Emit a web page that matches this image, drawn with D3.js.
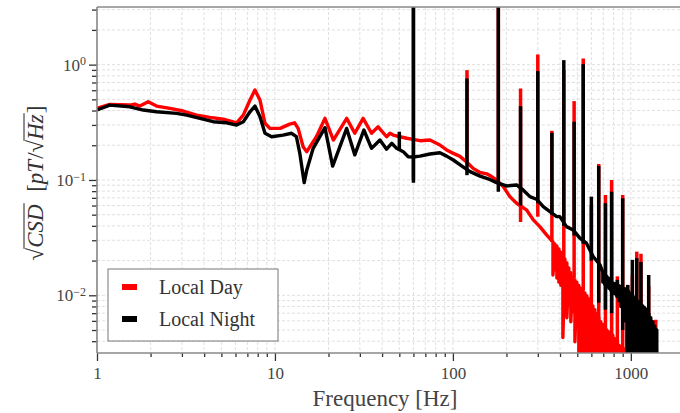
<!DOCTYPE html>
<html>
<head>
<meta charset="utf-8">
<script src="https://cdn.jsdelivr.net/npm/d3@7"></script>
<style>
body { margin: 0; background: #fff; }
svg text { font-family: "Liberation Serif", "DejaVu Serif", serif; fill: #444; }
</style>
</head>
<body>
<script>
// axis limits and ticks
var xLimits = [1, 2150];
var yLimits = [0.00316, 3.16];
var xMajor = [1, 10, 100, 1000];
var yMajor = [0.01, 0.1, 1];
var yExp = ["\u22122", "\u22121", "0"];

// Local Day: smooth part of the spectrum (Hz, pT/sqrt(Hz))
var dayHz = [1.0, 1.18, 1.53, 1.63, 1.74, 1.94, 2.16, 2.57, 3.05, 3.63, 4.31, 5.13, 6.09, 6.64, 7.24, 7.72, 8.24, 8.79, 9.37,
  10.7, 12.1, 12.9, 13.5, 14.4, 15.1, 17.1, 19.1, 21.3, 25.3, 28.1, 31.3, 34.9, 38.0, 42.4, 44.3, 46.2, 50.4, 55.0, 59.8,
  65.3, 74.3, 84.5, 92.2, 100.5, 109, 119, 130, 142, 155, 165, 176, 192, 209, 228, 259, 283, 308, 336];
var dayCsd = [0.418, 0.452, 0.446, 0.455, 0.437, 0.476, 0.437, 0.418, 0.396, 0.365, 0.349, 0.336, 0.313, 0.365, 0.493, 0.601, 0.493, 0.310, 0.280,
  0.280, 0.305, 0.313, 0.280, 0.194, 0.176, 0.237, 0.342, 0.222, 0.342, 0.254, 0.342, 0.254, 0.289, 0.237, 0.254, 0.245, 0.237, 0.230, 0.225,
  0.219, 0.222, 0.201, 0.182, 0.170, 0.161, 0.144, 0.126, 0.116, 0.113, 0.107, 0.100, 0.0875, 0.0717, 0.0628, 0.0551, 0.0451, 0.0394, 0.0334];
// Local Day: noisy tail, upper and lower excursions
var dayNoiseHz = [365, 374, 384, 394, 404, 415, 426, 437, 448, 460, 472, 485, 497, 510, 524, 537, 552, 566, 581, 596, 612, 628,
  644, 661, 678, 696, 714, 733, 752, 772, 792, 813, 834, 856, 879, 902, 925, 950, 1000, 1053, 1109, 1168, 1230, 1262, 1295, 1364, 1399];
var dayNoiseHigh = [0.0290, 0.0279, 0.0268, 0.0252, 0.0237, 0.0222, 0.0207, 0.0191, 0.0173, 0.0157, 0.0144, 0.0136, 0.0130, 0.0122, 0.0115, 0.0112,
  0.0105, 0.0099, 0.0093, 0.0088, 0.0081, 0.0075, 0.0069, 0.0064, 0.0059, 0.0056, 0.0052, 0.0050, 0.0048, 0.0047, 0.0045, 0.0042, 0.0040,
  0.0037, 0.0036, 0.0035, 0.0034, 0.0033, 0.0037, 0.0034, 0.0036, 0.0033, 0.0050, 0.0045, 0.0034, 0.0033, 0.0032];
var dayNoiseLow = [0.0150, 0.0166, 0.0141, 0.0130, 0.0122, 0.00431, 0.00914, 0.00638, 0.00827, 0.00590, 0.00720, 0.00396, 0.00555, 0.0025, 0.0025, 0.0025,
  0.0025, 0.0025, 0.0025, 0.0025, 0.0025, 0.0025, 0.0025, 0.0025, 0.0025, 0.0025, 0.0025, 0.0025, 0.0025, 0.0025, 0.0025, 0.0025, 0.0025,
  0.0025, 0.0025, 0.0025, 0.0025, 0.0025, 0.0025, 0.0025, 0.0025, 0.0025, 0.0025, 0.0025, 0.0025, 0.0025, 0.0025];

// Local Night: smooth part
var nightHz = [1.0, 1.18, 1.53, 1.82, 2.16, 2.80, 3.19, 3.79, 4.50, 5.35, 6.09, 6.64, 7.24, 7.72, 8.24, 8.79, 9.58, 11.1, 12.4, 13.2,
  13.8, 14.6, 15.1, 16.4, 19.1, 21.1, 25.3, 28.1, 31.6, 34.9, 38.9, 42.4, 45.3, 48.3, 52.6, 56.1, 59.8, 65.3, 74.3, 84.5, 92.2,
  100.5, 114, 125, 142, 161, 176, 200, 228, 248, 271, 295, 322, 351, 383, 399, 435, 474, 517, 563, 614, 670];
var nightCsd = [0.404, 0.446, 0.431, 0.404, 0.390, 0.378, 0.365, 0.342, 0.320, 0.313, 0.299, 0.320, 0.390, 0.437, 0.353, 0.254, 0.237, 0.245, 0.254, 0.237,
  0.170, 0.0948, 0.122, 0.188, 0.284, 0.132, 0.280, 0.165, 0.271, 0.188, 0.222, 0.185, 0.208, 0.188, 0.176, 0.159, 0.158, 0.161, 0.168, 0.172, 0.161,
  0.149, 0.130, 0.118, 0.108, 0.101, 0.0948, 0.0887, 0.0905, 0.0819, 0.0717, 0.0681, 0.0587, 0.0532, 0.0481, 0.0481, 0.0394, 0.0369, 0.0313, 0.0283, 0.0217, 0.0184];
// Local Night: noisy tail
var nightNoiseHz = [696, 714, 733, 752, 772, 792, 813, 834, 856, 879, 902, 925, 950, 974, 1000, 1026, 1053, 1081, 1109, 1138,
  1168, 1198, 1230, 1262, 1295, 1329, 1364, 1399];
var nightNoiseHigh = [0.0159, 0.0151, 0.0146, 0.0140, 0.0134, 0.0128, 0.0126, 0.0123, 0.0121, 0.0119, 0.0116, 0.0114, 0.0112, 0.0108, 0.0103, 0.0099,
  0.0095, 0.0091, 0.0088, 0.0085, 0.0081, 0.0078, 0.0075, 0.0069, 0.0064, 0.0059, 0.0054, 0.0050];
var nightNoiseLow = [0.0130, 0.0124, 0.0120, 0.0115, 0.0110, 0.0105, 0.0103, 0.0098, 0.0090, 0.0080, 0.0070, 0.0060, 0.0025, 0.0025, 0.0025, 0.0025,
  0.0025, 0.0025, 0.0025, 0.0025, 0.0025, 0.0025, 0.0025, 0.0025, 0.0025, 0.0025, 0.0025, 0.0025];

// power line harmonics (narrow lines)
var spikeHz = [50, 60, 120, 180, 240, 300, 360, 420, 480, 540, 600, 660, 720, 780, 840, 900, 960, 1020, 1080, 1140, 1200, 1260, 1380];
var daySpikeTop = [0.237, 5, 0.896, 5, 0.622, 1.225, 0.267, 0.90, 0.483, 1.13, 0.060, 0.1376, 0.0742, 0.100, 0.0146, 0.0742, 0.0123, 0.015, 0.0239, 0.0229, 0.00655, 0.012, 0.00614];
var daySpikeBase = [0.237, 0.100, 0.140, 0.100, 0.0433, 0.048, 0.029, 0.020, 0.014, 0.011, 0.008, 0.0025, 0.0025, 0.0025, 0.0025, 0.0025, 0.0025, 0.0025, 0.0025, 0.0025, 0.0025, 0.0025, 0.0025];
var nightSpikeTop = [0.262, 5, 0.759, 5, 0.437, 0.878, 0.257, 1.094, 0.320, 1.01, 0.0717, 0.132, 0.0628, 0.0792, 0.0136, 0.0694, 0.0123, 0.0203, 0.0210, 0.0195, 0.0055, 0.0150, 0.0047];
var nightSpikeBase = [0.180, 0.0948, 0.110, 0.079, 0.060, 0.063, 0.050, 0.040, 0.033, 0.028, 0.020, 0.0086, 0.0075, 0.0070, 0.0100, 0.0050, 0.0025, 0.0025, 0.0025, 0.0025, 0.0025, 0.0025, 0.0025];

var legendNames = ["Local Day", "Local Night"];
var colors = ["#ff0000", "#000000"];

var plotLeft = 97, plotRight = 690, plotTop = 7, plotBottom = 353;

var svg = d3.select("body").append("svg")
    .attr("width", 680)
    .attr("height", 413);

var x = d3.scaleLog().domain(xLimits).range([plotLeft, plotRight]);
var y = d3.scaleLog().domain(yLimits).range([plotBottom, plotTop]);

svg.append("clipPath").attr("id", "plotclip")
    .append("rect").attr("x", plotLeft).attr("y", plotTop)
    .attr("width", plotRight - plotLeft).attr("height", plotBottom - plotTop);

// tick positions at 1..9 per decade
function decadeTicks(lo, hi) {
    var out = [];
    for (var e = Math.floor(Math.log10(lo)); e <= Math.ceil(Math.log10(hi)); e++) {
        for (var k = 1; k < 10; k++) {
            var v = k * Math.pow(10, e);
            if (v >= lo * 0.999 && v <= hi) out.push(v);
        }
    }
    return out;
}
var xAll = decadeTicks(xLimits[0], xLimits[1]);
var yAll = decadeTicks(yLimits[0], yLimits[1]);
var xMinor = xAll.filter(function(d) { return xMajor.indexOf(d) < 0; });
var yMinor = yAll.filter(function(d) { return !yMajor.some(function(m) { return Math.abs(m - d) / m < 1e-6; }); });

// grid
var grid = svg.append("g");
grid.selectAll("line.gx").data(xAll).enter().append("line")
    .attr("x1", function(d) { return x(d); }).attr("x2", function(d) { return x(d); })
    .attr("y1", plotTop).attr("y2", plotBottom)
    .style("stroke", "#d8d8d8").style("stroke-width", 0.8).style("stroke-dasharray", "3,2");
grid.selectAll("line.gy").data(yAll).enter().append("line")
    .attr("y1", function(d) { return y(d); }).attr("y2", function(d) { return y(d); })
    .attr("x1", plotLeft).attr("x2", plotRight)
    .style("stroke", "#d8d8d8").style("stroke-width", 0.8).style("stroke-dasharray", "3,2");

// build line data: smooth part then zigzag through the noisy tail
function series(hz, val, nHz, nHigh, nLow) {
    var pts = hz.map(function(f, i) { return [f, val[i]]; });
    nHz.forEach(function(f, i) {
        pts.push([f, nHigh[i]]);
        pts.push([f, nLow[i]]);
    });
    return pts;
}
var dayData = series(dayHz, dayCsd, dayNoiseHz, dayNoiseHigh, dayNoiseLow);
var nightData = series(nightHz, nightCsd, nightNoiseHz, nightNoiseHigh, nightNoiseLow);

var line = d3.line()
    .x(function(d) { return x(d[0]); })
    .y(function(d) { return y(d[1]); });

var plot = svg.append("g").attr("clip-path", "url(#plotclip)");

function drawSeries(data, tops, bases, color) {
    plot.append("path")
        .attr("d", line(data))
        .style("fill", "none")
        .style("stroke", color)
        .style("stroke-width", 3.4)
        .style("stroke-linejoin", "round");
    plot.append("g").selectAll("line")
        .data(spikeHz.map(function(f, i) { return [f, tops[i], bases[i]]; }).filter(function(d) { return d[1] > d[2]; }))
        .enter().append("line")
        .attr("x1", function(d) { return x(d[0]); }).attr("x2", function(d) { return x(d[0]); })
        .attr("y1", function(d) { return y(d[2]); }).attr("y2", function(d) { return y(d[1]); })
        .style("stroke", color)
        .style("stroke-width", 3.5);
}
drawSeries(dayData, daySpikeTop, daySpikeBase, colors[0]);
drawSeries(nightData, nightSpikeTop, nightSpikeBase, colors[1]);

// axes
var xAxisMajor = svg.append("g").attr("transform", "translate(0," + plotBottom + ")")
    .call(d3.axisBottom(x).tickValues(xMajor).tickFormat(function(d) { return d; }).tickSize(8).tickPadding(6));
var xAxisMinor = svg.append("g").attr("transform", "translate(0," + plotBottom + ")")
    .call(d3.axisBottom(x).tickValues(xMinor).tickFormat("").tickSize(4));
var yAxisMajor = svg.append("g").attr("transform", "translate(" + plotLeft + ",0)")
    .call(d3.axisLeft(y).tickValues(yMajor).tickFormat("").tickSize(8).tickPadding(3));
var yAxisMinor = svg.append("g").attr("transform", "translate(" + plotLeft + ",0)")
    .call(d3.axisLeft(y).tickValues(yMinor).tickFormat("").tickSize(5));

[xAxisMajor, xAxisMinor, yAxisMajor, yAxisMinor].forEach(function(a) {
    a.select(".domain").remove();
    a.selectAll(".tick line").style("stroke", "#333").style("stroke-width", 1.3);
});
xAxisMajor.selectAll(".tick text").style("font-size", "17px").style("fill", "#444")
    .style("font-family", "'Liberation Serif', serif");

yAxisMajor.selectAll(".tick text").each(function(d) {
    var t = d3.select(this).text("10").style("font-size", "17px").style("fill", "#444")
        .style("font-family", "'Liberation Serif', serif").attr("dy", "0.32em");
    t.append("tspan").attr("dy", "-0.45em").style("font-size", "12px").text(yExp[yMajor.indexOf(d)]);
});

// spines
svg.append("line").attr("x1", plotLeft).attr("x2", plotRight).attr("y1", plotTop).attr("y2", plotTop)
    .style("stroke", "#888").style("stroke-width", 1.6);
svg.append("line").attr("x1", plotLeft).attr("x2", plotLeft).attr("y1", plotTop).attr("y2", plotBottom)
    .style("stroke", "#888").style("stroke-width", 1.6);
svg.append("line").attr("x1", plotLeft).attr("x2", plotRight).attr("y1", plotBottom).attr("y2", plotBottom)
    .style("stroke", "#888").style("stroke-width", 1.6);

// x label
svg.append("text")
    .attr("x", 385).attr("y", 406)
    .attr("text-anchor", "middle")
    .style("font-size", "23px")
    .text("Frequency [Hz]");

// y label: sqrt(CSD) [pT/sqrt(Hz)]
var yl = svg.append("g").attr("transform", "translate(43,183) rotate(-90)");
var ylInner = yl.append("g");
var parts = [
    {t: "\u221A", it: false}, {t: "CSD", it: true, bar: true}, {t: "\u00A0\u00A0[", it: false},
    {t: "pT", it: true}, {t: "/", it: false}, {t: "\u221A", it: false}, {t: "Hz", it: true, bar: true}, {t: "]", it: false}
];
var cx = 0;
parts.forEach(function(p) {
    var t = ylInner.append("text").attr("x", cx).attr("y", 0)
        .style("font-size", "23px").style("fill", "#333")
        .style("font-style", p.it ? "italic" : "normal")
        .text(p.t);
    var w = t.node().getComputedTextLength();
    if (p.bar) {
        ylInner.append("line").attr("x1", cx - 1).attr("x2", cx + w + 1).attr("y1", -19).attr("y2", -19)
            .style("stroke", "#333").style("stroke-width", 1.1);
    }
    cx += w + (p.it ? 1 : 0);
});
ylInner.attr("transform", "translate(" + (-cx / 2) + ",0)");

// legend
var lg = svg.append("g");
lg.append("rect").attr("x", 108).attr("y", 269).attr("width", 170).attr("height", 72)
    .style("fill", "#fff").style("stroke", "#777").style("stroke-width", 1);
legendNames.forEach(function(name, i) {
    var cy = 287 + i * 32;
    lg.append("rect").attr("x", 122).attr("y", cy - 3).attr("width", 15).attr("height", 6)
        .style("fill", colors[i]);
    lg.append("text").attr("x", 159).attr("y", cy + 7)
        .style("font-size", "20px").style("fill", "#333")
        .text(name);
});
</script>
</body>
</html>
